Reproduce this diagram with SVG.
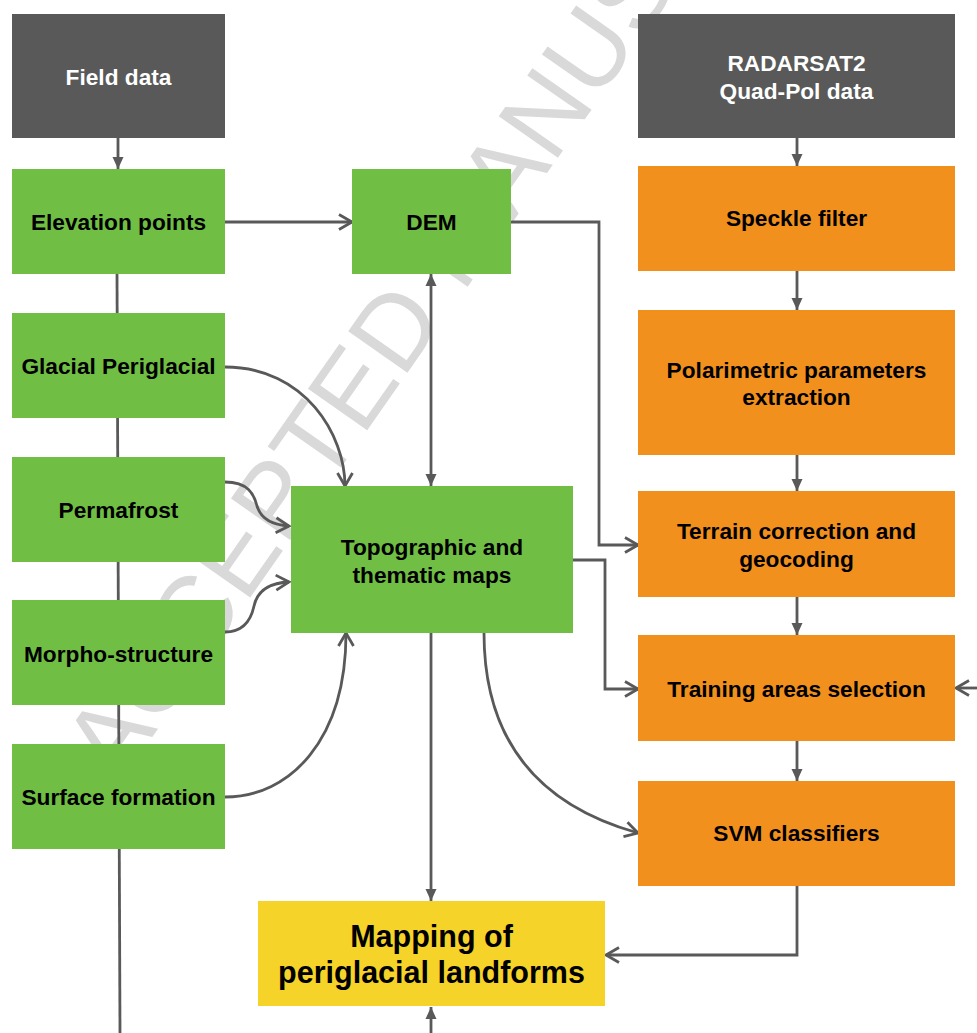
<svg xmlns="http://www.w3.org/2000/svg" width="977" height="1033" viewBox="0 0 977 1033">
<style>
.dark{fill:#595959}
.green{fill:#70BF44}
.orange{fill:#F2901D}
.yellow{fill:#F5D328}
.lbl{font-family:"Liberation Sans",Arial,Helvetica,sans-serif;font-weight:bold;font-size:22.7px;text-anchor:middle;fill:#000}
.lblw{fill:#fff}
.big{font-size:30.5px}
.wm{font-family:"Liberation Sans",Arial,Helvetica,sans-serif;font-size:105px;fill:#d9d9d9}
.c{fill:none;stroke:#595959;stroke-width:2.8}
</style>
<defs>
<marker id="tri" viewBox="0 0 12 12" refX="12" refY="6" markerWidth="12" markerHeight="12" orient="auto-start-reverse" markerUnits="userSpaceOnUse"><path d="M0,0.5 L12,6 L0,11.5 z" fill="#595959"/></marker>
<marker id="chev" viewBox="0 0 16 18" refX="14" refY="9" markerWidth="16" markerHeight="18" orient="auto" markerUnits="userSpaceOnUse" overflow="visible"><path d="M1,1.5 L14,9 L1,16.5" fill="none" stroke="#595959" stroke-width="2.8"/></marker>
</defs>
<rect width="977" height="1033" fill="#fff"/>
<text class="wm" transform="translate(118,786) rotate(-55)">ACCEPTED MANUSCRIPT</text>
<g id="connectors">
<path class="c" d="M118,138 V169" marker-end="url(#tri)"/>
<path class="c" d="M117,274 L120,1033"/>
<path class="c" d="M225,222 H352" marker-end="url(#chev)"/>
<path class="c" d="M511,222 H599 V545 H638" marker-end="url(#chev)"/>
<path class="c" d="M431,274 V486" marker-start="url(#tri)" marker-end="url(#tri)"/>
<path class="c" d="M225,367 C305,367 345,435 345,486" marker-end="url(#chev)"/>
<path class="c" d="M225,482 C248,482 254,494 257,506 C261,519 272,525 289,526" marker-end="url(#chev)"/>
<path class="c" d="M225,632 C244,632 251,620 254,606 C257,592 268,583 289,582" marker-end="url(#chev)"/>
<path class="c" d="M225,797 C290,797 346,740 346,633" marker-end="url(#chev)"/>
<path class="c" d="M431,633 V901" marker-end="url(#tri)"/>
<path class="c" d="M573,560 H605 V689 H638" marker-end="url(#chev)"/>
<path class="c" d="M484,633 C484,720 520,800 638,833" marker-end="url(#chev)"/>
<path class="c" d="M797,138 V166" marker-end="url(#tri)"/>
<path class="c" d="M797,271 V310" marker-end="url(#tri)"/>
<path class="c" d="M797,455 V491" marker-end="url(#tri)"/>
<path class="c" d="M797,597 V635" marker-end="url(#tri)"/>
<path class="c" d="M797,741 V781" marker-end="url(#tri)"/>
<path class="c" d="M977,688 H956" marker-end="url(#chev)"/>
<path class="c" d="M797,886 V955 H606" marker-end="url(#chev)"/>
<path class="c" d="M431,1033 V1007" marker-end="url(#tri)"/>
</g>
<g id="field-data"><rect class="dark" x="12" y="14" width="213" height="124"/><text class="lbl lblw" x="118.5" y="85">Field data</text></g>
<g id="radarsat"><rect class="dark" x="638" y="14" width="317" height="124"/><text class="lbl lblw" x="796.5" y="71">RADARSAT2</text><text class="lbl lblw" x="796.5" y="99">Quad-Pol data</text></g>
<g id="elevation-points"><rect class="green" x="12" y="169" width="213" height="105"/><text class="lbl" x="118.5" y="230">Elevation points</text></g>
<g id="dem"><rect class="green" x="352" y="169" width="159" height="105"/><text class="lbl" x="431.5" y="230">DEM</text></g>
<g id="speckle-filter"><rect class="orange" x="638" y="166" width="317" height="105"/><text class="lbl" x="796.5" y="226">Speckle filter</text></g>
<g id="glacial-periglacial"><rect class="green" x="12" y="313" width="213" height="105"/><text class="lbl" x="118.5" y="374">Glacial Periglacial</text></g>
<g id="polarimetric"><rect class="orange" x="638" y="310" width="317" height="145"/><text class="lbl" x="796.5" y="378">Polarimetric parameters</text><text class="lbl" x="796.5" y="405">extraction</text></g>
<g id="permafrost"><rect class="green" x="12" y="457" width="213" height="105"/><text class="lbl" x="118.5" y="518">Permafrost</text></g>
<g id="topographic"><rect class="green" x="291" y="486" width="282" height="147"/><text class="lbl" x="432" y="555">Topographic and</text><text class="lbl" x="432" y="583">thematic maps</text></g>
<g id="terrain-correction"><rect class="orange" x="638" y="491" width="317" height="106"/><text class="lbl" x="796.5" y="539">Terrain correction and</text><text class="lbl" x="796.5" y="567">geocoding</text></g>
<g id="morpho-structure"><rect class="green" x="12" y="600" width="213" height="105"/><text class="lbl" x="118.5" y="662">Morpho-structure</text></g>
<g id="training-areas"><rect class="orange" x="638" y="635" width="317" height="106"/><text class="lbl" x="796.5" y="697">Training areas selection</text></g>
<g id="surface-formation"><rect class="green" x="12" y="744" width="213" height="105"/><text class="lbl" x="118.5" y="805">Surface formation</text></g>
<g id="svm"><rect class="orange" x="638" y="781" width="317" height="105"/><text class="lbl" x="796.5" y="841">SVM classifiers</text></g>
<g id="mapping"><rect class="yellow" x="258" y="901" width="347" height="105"/><text class="lbl big" x="431.5" y="947">Mapping of</text><text class="lbl big" x="431.5" y="983">periglacial landforms</text></g>
</svg>
